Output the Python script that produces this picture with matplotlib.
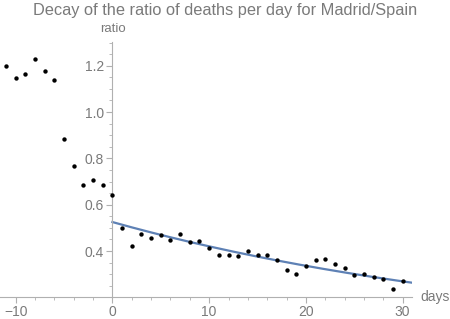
import numpy as np
import matplotlib.pyplot as plt

from matplotlib import rcParams
from matplotlib.ticker import MultipleLocator

# Text and axes color specs
GRAY = '#7a7a7a'
rcParams['font.family'] = ['Liberation Sans', 'DejaVu Sans']
rcParams['text.color'] = GRAY
rcParams['xtick.color'] = '#b0b0b0'
rcParams['ytick.color'] = '#b0b0b0'
rcParams['xtick.labelcolor'] = GRAY
rcParams['ytick.labelcolor'] = GRAY

# Observed ratio of deaths per day
days = list(range(-11, 31))
ratio = [1.199, 1.148, 1.166, 1.230, 1.177, 1.138, 0.885, 0.767, 0.685, 0.707,
         0.685, 0.643, 0.501, 0.420, 0.475, 0.457, 0.469, 0.447, 0.475, 0.437,
         0.442, 0.414, 0.383, 0.383, 0.377, 0.400, 0.383, 0.383, 0.361, 0.318,
         0.302, 0.334, 0.361, 0.367, 0.345, 0.328, 0.296, 0.302, 0.286, 0.280,
         0.237, 0.270]

# Exponential fit a*exp(-b*t), drawn from day 0 onwards
fit_a = 0.525
fit_b = 0.0223

# Figure specs
fig = plt.figure(figsize=(4.5, 3.19), dpi=100)
ax = fig.add_axes([0.0, 0.0699, 0.9156, 0.7975])
ax.set_xlim(-11.62, 30.97)
ax.set_ylim(0.2027, 1.301)

t = np.linspace(0, 30.97, 200)
ax.plot(t, fit_a * np.exp(-fit_b * t), color='#5e81b5', linewidth=1.6, zorder=2)
ax.scatter(days, ratio, s=10, color='black', zorder=3, linewidths=0)

# Axes through the origin like the reference
ax.spines['left'].set_position(('data', 0))
ax.spines['top'].set_visible(False)
ax.spines['right'].set_visible(False)
for side in ['left', 'bottom']:
    ax.spines[side].set_color('#b0b0b0')
    ax.spines[side].set_linewidth(0.8)

ax.xaxis.set_major_locator(MultipleLocator(10))
ax.xaxis.set_minor_locator(MultipleLocator(2))
ax.yaxis.set_minor_locator(MultipleLocator(0.05))
ax.set_yticks([0.4, 0.6, 0.8, 1.0, 1.2])
ax.yaxis.set_major_formatter(lambda v, pos: f'{v:.1f}')
ax.xaxis.set_major_formatter(lambda v, pos: f'{v:.0f}'.replace('-', '\u2212'))
ax.tick_params(which='major', length=4, width=0.8, labelsize=10, pad=2)
ax.tick_params(which='minor', length=2, width=0.6)

# Title and axis labels
fig.text(0.5, 1 - 11 / 319, 'Decay of the ratio of deaths per day for Madrid/Spain',
         ha='center', va='center', fontsize=11.8, color=GRAY)
fig.text(112.5 / 450, 1 - 29 / 319, 'ratio', ha='center', va='center',
         fontsize=9.5, color=GRAY)
fig.text(420 / 450, 1 - 297 / 319, 'days', ha='left', va='center',
         fontsize=10, color=GRAY)

fig.savefig('out.png', dpi=100)
